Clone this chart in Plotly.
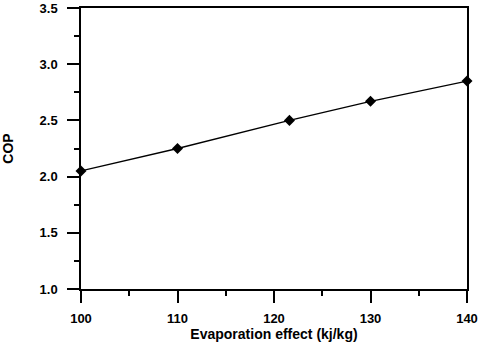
import plotly.graph_objects as go

# data
evap_effect = [100, 110, 121.6, 130, 140]
cop = [2.05, 2.25, 2.50, 2.67, 2.85]

x_ticks = [100, 110, 120, 130, 140]
y_ticks = [1.0, 1.5, 2.0, 2.5, 3.0, 3.5]

FONT = 'Liberation Sans, Arial, sans-serif'

fig = go.Figure(go.Scatter(
    x=evap_effect, y=cop,
    mode='lines+markers',
    line=dict(color='black', width=1.3),
    marker=dict(symbol='diamond', size=8.5, color='black'),
    cliponaxis=False,
    showlegend=False))

axis_common = dict(
    showgrid=False, zeroline=False, automargin=False,
    showline=True, linecolor='black', linewidth=1.5, mirror=True,
    ticks='outside', ticklen=12, tickwidth=1.5, tickcolor='black',
    tickfont=dict(family=FONT, size=13, color='black', weight='bold'),
)

fig.update_xaxes(
    range=[100, 140], tickvals=x_ticks, ticklabelstandoff=5,
    minor=dict(dtick=5, ticks='outside', ticklen=5, tickwidth=1.5, tickcolor='black'),
    title=dict(text='Evaporation effect (kj/kg)', standoff=4,
               font=dict(family=FONT, size=14, color='black', weight='bold')),
    **axis_common)
fig.update_yaxes(
    range=[1.0, 3.5], tickvals=y_ticks, tickformat='.1f', ticklabelstandoff=7,
    minor=dict(dtick=0.25, ticks='outside', ticklen=5, tickwidth=1.5, tickcolor='black'),
    title=dict(text='COP', standoff=23,
               font=dict(family=FONT, size=14, color='black', weight='bold')),
    **axis_common)

fig.update_layout(
    width=480, height=345,
    autosize=False,
    margin=dict(l=81, r=13, t=8, b=56),
    plot_bgcolor='white', paper_bgcolor='white')

# the page has a default 8px body margin; drop it so the figure sits at 0,0
fig.write_html("out.html", config={'displayModeBar': False},
               post_script="document.body.style.margin='0';")
